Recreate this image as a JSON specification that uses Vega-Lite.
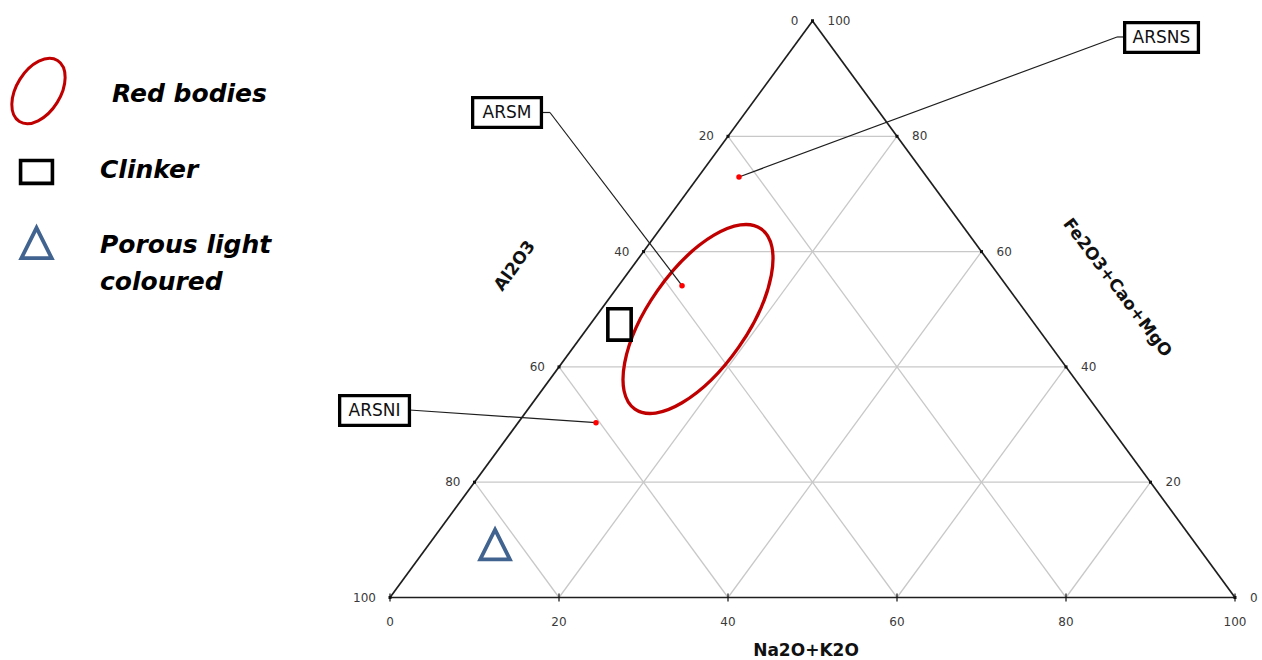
{
  "$schema": "https://vega.github.io/schema/vega-lite/v6.json",
  "width": 1262,
  "height": 660,
  "autosize": {"type": "none"},
  "padding": 0,
  "background": "white",
  "config": {"view": {"stroke": null}},
  "datasets": {
    "grid": [
      {"x": 10, "y": 20, "x2": 90, "y2": 20},
      {"x": 20, "y": 40, "x2": 80, "y2": 40},
      {"x": 30, "y": 60, "x2": 70, "y2": 60},
      {"x": 40, "y": 80, "x2": 60, "y2": 80},
      {"x": 20, "y": 0, "x2": 60, "y2": 80},
      {"x": 40, "y": 0, "x2": 70, "y2": 60},
      {"x": 60, "y": 0, "x2": 80, "y2": 40},
      {"x": 80, "y": 0, "x2": 90, "y2": 20},
      {"x": 20, "y": 0, "x2": 10, "y2": 20},
      {"x": 40, "y": 0, "x2": 20, "y2": 40},
      {"x": 60, "y": 0, "x2": 30, "y2": 60},
      {"x": 80, "y": 0, "x2": 40, "y2": 80}
    ],
    "border": [
      {"x": 0, "y": 0, "x2": 100, "y2": 0},
      {"x": 0, "y": 0, "x2": 50, "y2": 100},
      {"x": 100, "y": 0, "x2": 50, "y2": 100}
    ],
    "leaders": [
      {"sample": "ARSNS", "x": 41.3, "y": 72.94, "x2": 86.04, "y2": 97.23},
      {"sample": "ARSNS", "x": 86.04, "y": 97.23, "x2": 86.94, "y2": 97.23},
      {"sample": "ARSM", "x": 34.56, "y": 54.09, "x2": 18.93, "y2": 84.13},
      {"sample": "ARSM", "x": 18.93, "y": 84.13, "x2": 17.92, "y2": 84.13},
      {"sample": "ARSNI", "x": 24.38, "y": 30.32, "x2": 2.3, "y2": 32.52}
    ],
    "boxes": [
      {"sample": "ARSNS", "x": 86.94, "x2": 95.67, "y": 99.72, "y2": 94.55},
      {"sample": "ARSM", "x": 9.78, "x2": 17.92, "y": 86.71, "y2": 81.54},
      {"sample": "ARSNI", "x": -5.96, "x2": 2.3, "y": 35.02, "y2": 29.85}
    ],
    "labels": [
      {"sample": "ARSNS", "x": 91.3, "y": 97.1},
      {"sample": "ARSM", "x": 13.85, "y": 84.1},
      {"sample": "ARSNI", "x": -1.83, "y": 32.4}
    ],
    "samples": [
      {"sample": "ARSNS", "x": 41.3, "y": 72.94},
      {"sample": "ARSM", "x": 34.56, "y": 54.09},
      {"sample": "ARSNI", "x": 24.38, "y": 30.32}
    ],
    "clinker": [
      {"group": "Clinker", "x": 25.78, "x2": 28.54, "y": 50.08, "y2": 44.64},
      {"group": "Clinker key", "x": -43.72, "x2": -39.95, "y": 75.79, "y2": 71.83}
    ],
    "redBodies": [{"group": "Red bodies", "x": 36.45, "y": 48.31}],
    "redKey": [{"group": "Red bodies key", "x": -41.6, "y": 87.86}],
    "porous": [
      {"group": "Porous light coloured", "x": 12.43, "y": 9.19, "s": 880},
      {"group": "Porous light coloured key", "x": -41.83, "y": 61.49, "s": 920}
    ],
    "legendText": [
      {"text": "Red bodies", "x": -32.9, "y": 85.95},
      {"text": "Clinker", "x": -34.32, "y": 72.77},
      {"text": "Porous light", "x": -34.32, "y": 59.76},
      {"text": "coloured", "x": -34.32, "y": 53.34}
    ],
    "leftTicks": [
      {"x": 50, "y": 100, "label": "0"},
      {"x": 40, "y": 80, "label": "20"},
      {"x": 30, "y": 60, "label": "40"},
      {"x": 20, "y": 40, "label": "60"},
      {"x": 10, "y": 20, "label": "80"},
      {"x": 0, "y": 0, "label": "100"}
    ],
    "rightTicks": [
      {"x": 50, "y": 100, "label": "100"},
      {"x": 60, "y": 80, "label": "80"},
      {"x": 70, "y": 60, "label": "60"},
      {"x": 80, "y": 40, "label": "40"},
      {"x": 90, "y": 20, "label": "20"},
      {"x": 100, "y": 0, "label": "0"}
    ],
    "bottomTicks": [
      {"x": 0, "y": 0, "label": "0"},
      {"x": 20, "y": 0, "label": "20"},
      {"x": 40, "y": 0, "label": "40"},
      {"x": 60, "y": 0, "label": "60"},
      {"x": 80, "y": 0, "label": "80"},
      {"x": 100, "y": 0, "label": "100"}
    ],
    "titles": [
      {"text": "Na2O+K2O", "x": 49.23, "y": -9.3, "angle": 0},
      {"text": "Al2O3", "x": 14.79, "y": 57.5, "angle": 306},
      {"text": "Fe2O3+Cao+MgO", "x": 86.04, "y": 53.69, "angle": 53}
    ]
  },
  "encoding": {
    "x": {"field": "x", "type": "quantitative", "axis": null, "scale": {"domain": [-46.154, 103.195], "nice": false, "zero": false}},
    "y": {"field": "y", "type": "quantitative", "axis": null, "scale": {"domain": [-10.841, 103.643], "nice": false, "zero": false}}
  },
  "layer": [
    {
      "data": {"name": "grid"},
      "mark": {"type": "rule", "color": "#c8c8c8", "strokeWidth": 1.3},
      "encoding": {"x2": {"field": "x2"}, "y2": {"field": "y2"}}
    },
    {
      "data": {"name": "border"},
      "mark": {"type": "rule", "color": "#1e1e1e", "strokeWidth": 1.7},
      "encoding": {"x2": {"field": "x2"}, "y2": {"field": "y2"}}
    },
    {
      "data": {"name": "leftTicks"},
      "mark": {"type": "point", "shape": "square", "size": 9, "filled": true, "color": "#111", "opacity": 1}
    },
    {
      "data": {"name": "rightTicks"},
      "mark": {"type": "point", "shape": "square", "size": 9, "filled": true, "color": "#111", "opacity": 1}
    },
    {
      "data": {"name": "bottomTicks"},
      "mark": {"type": "point", "shape": "M 0 -1 L 0 1", "size": 64, "filled": false, "color": "#111", "strokeWidth": 1.2, "opacity": 1}
    },
    {
      "data": {"name": "leftTicks"},
      "mark": {"type": "text", "align": "right", "baseline": "middle", "dx": -14, "font": "DejaVu Sans", "fontSize": 12, "color": "#3a3a3a"},
      "encoding": {"text": {"field": "label"}}
    },
    {
      "data": {"name": "rightTicks"},
      "mark": {"type": "text", "align": "left", "baseline": "middle", "dx": 15, "font": "DejaVu Sans", "fontSize": 12, "color": "#3a3a3a"},
      "encoding": {"text": {"field": "label"}}
    },
    {
      "data": {"name": "bottomTicks"},
      "mark": {"type": "text", "align": "center", "baseline": "middle", "dy": 24, "font": "DejaVu Sans", "fontSize": 12, "color": "#3a3a3a"},
      "encoding": {"text": {"field": "label"}}
    },
    {
      "data": {"name": "titles"},
      "mark": {"type": "text", "align": "center", "baseline": "middle", "font": "DejaVu Sans", "fontWeight": "bold", "fontSize": 17, "color": "#111"},
      "encoding": {"text": {"field": "text"}, "angle": {"field": "angle", "type": "quantitative", "scale": null}}
    },
    {
      "data": {"name": "redBodies"},
      "mark": {"type": "point", "shape": "M -1 0 C -1 -0.2485 -0.5523 -0.45 0 -0.45 C 0.5523 -0.45 1 -0.2485 1 0 C 1 0.2485 0.5523 0.45 0 0.45 C -0.5523 0.45 -1 0.2485 -1 0 Z", "size": 48400, "angle": 305, "filled": false, "stroke": "#c00000", "strokeWidth": 3.3, "opacity": 1}
    },
    {
      "data": {"name": "redKey"},
      "mark": {"type": "point", "shape": "M -1 0 C -1 -0.337 -0.5523 -0.61 0 -0.61 C 0.5523 -0.61 1 -0.337 1 0 C 1 0.337 0.5523 0.61 0 0.61 C -0.5523 0.61 -1 0.337 -1 0 Z", "size": 5184, "angle": 302, "filled": false, "stroke": "#c00000", "strokeWidth": 3, "opacity": 1}
    },
    {
      "data": {"name": "clinker"},
      "mark": {"type": "rect", "fill": null, "stroke": "#000", "strokeWidth": 3.6},
      "encoding": {"x2": {"field": "x2"}, "y2": {"field": "y2"}}
    },
    {
      "data": {"name": "porous"},
      "mark": {"type": "point", "shape": "M 0 -1 L 1 1 L -1 1 Z", "filled": false, "stroke": "#41638f", "strokeWidth": 3.8, "opacity": 1},
      "encoding": {"size": {"field": "s", "type": "quantitative", "scale": null}}
    },
    {
      "data": {"name": "legendText"},
      "mark": {"type": "text", "align": "left", "baseline": "alphabetic", "font": "DejaVu Sans", "fontWeight": "bold", "fontStyle": "italic", "fontSize": 25, "color": "#000"},
      "encoding": {"text": {"field": "text"}}
    },
    {
      "data": {"name": "leaders"},
      "mark": {"type": "rule", "color": "#1e1e1e", "strokeWidth": 1.2},
      "encoding": {"x2": {"field": "x2"}, "y2": {"field": "y2"}}
    },
    {
      "data": {"name": "boxes"},
      "mark": {"type": "rect", "fill": "white", "stroke": "#000", "strokeWidth": 3.3},
      "encoding": {"x2": {"field": "x2"}, "y2": {"field": "y2"}}
    },
    {
      "data": {"name": "labels"},
      "mark": {"type": "text", "align": "center", "baseline": "middle", "font": "DejaVu Sans", "fontSize": 17, "color": "#111"},
      "encoding": {"text": {"field": "sample"}}
    },
    {
      "data": {"name": "samples"},
      "mark": {"type": "point", "shape": "circle", "size": 30, "filled": true, "color": "#ff0000", "opacity": 1}
    }
  ]
}
